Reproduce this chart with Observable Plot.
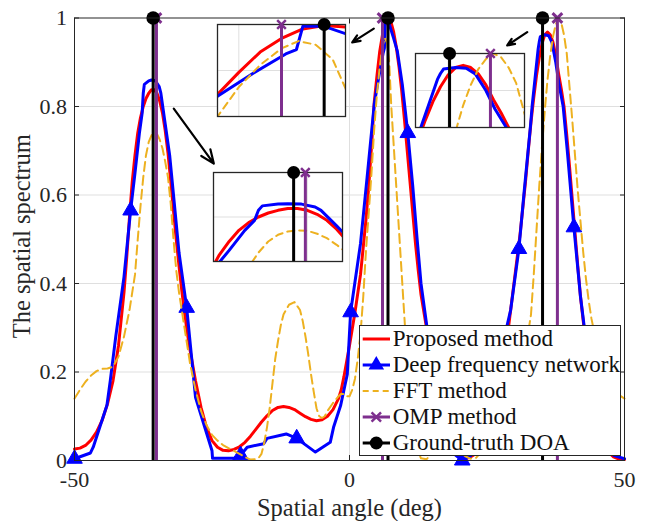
<!DOCTYPE html>
<html><head><meta charset="utf-8">
<script src="https://cdn.jsdelivr.net/npm/d3@7"></script>
<script src="https://cdn.jsdelivr.net/npm/@observablehq/plot@0.6"></script>
<style>
body{margin:0;background:#fff;}
#wrap{position:relative;width:645px;height:521px;overflow:hidden;font-family:"Liberation Serif","DejaVu Serif",serif;background:#fff;}
#wrap svg{position:absolute;}
</style></head><body><div id="wrap"></div>
<script>
// ---------- data ----------
const proposedAngle = [-50,-49,-48,-47,-46,-45,-44,-43,-42,-41,-40.5,-40,-39.5,-39,-38.5,-38,-37.5,-37,-36.5,-36,-35.5,-35,-34.5,-34,-33.5,-33,-32.5,-32,-31.5,-31,-30.5,-30,-29.5,-29,-28,-27,-26,-25,-24,-23,-22,-21,-20,-19,-18,-17,-16,-15,-14,-13,-12,-11,-10,-9,-8,-7,-6,-5,-4,-3,-2,-1.5,-1,-0.5,0,1,2,3,3.5,4,4.5,5,5.5,6,6.5,7,7.5,8,8.5,9,9.5,10,10.5,11,11.5,12,12.5,13,14,15,16,17,18,19,20,21,22,23,24,25,26,27,28,29,30,31,32,32.5,33,33.5,34,34.5,35,35.5,36,36.5,37,37.5,38,38.5,39,39.5,40,40.5,41,41.5,42,43,44,45,46,47,48,49,50];
const proposedValue = [0.026,0.028,0.034,0.046,0.064,0.09,0.128,0.18,0.26,0.38,0.46,0.55,0.63,0.69,0.74,0.775,0.8,0.818,0.83,0.838,0.838,0.83,0.812,0.785,0.745,0.695,0.63,0.565,0.5,0.44,0.385,0.335,0.29,0.25,0.18,0.12,0.075,0.045,0.03,0.023,0.022,0.025,0.031,0.041,0.055,0.071,0.087,0.101,0.113,0.12,0.122,0.12,0.115,0.107,0.099,0.093,0.09,0.092,0.1,0.115,0.14,0.16,0.19,0.225,0.26,0.335,0.42,0.545,0.62,0.71,0.81,0.87,0.925,0.962,0.988,0.997,0.993,0.97,0.935,0.89,0.835,0.77,0.7,0.63,0.56,0.49,0.43,0.375,0.3,0.225,0.155,0.095,0.05,0.02,0.006,0.004,0.008,0.016,0.03,0.06,0.1,0.15,0.22,0.31,0.41,0.51,0.63,0.7,0.765,0.82,0.87,0.91,0.942,0.962,0.968,0.962,0.945,0.915,0.875,0.84,0.8,0.735,0.665,0.59,0.515,0.44,0.37,0.26,0.17,0.1,0.05,0.02,0.008,0.003,0.002];

const dfnAngle = [-50,-47.1,-46.6,-44.1,-43.5,-42.5,-41,-39.8,-39,-38.2,-37.7,-37.5,-37.3,-36.5,-36,-35.3,-34.6,-34.3,-33.5,-32.7,-32,-31,-29.6,-28,-25,-24.9,-21,-19.8,-18.6,-15.6,-15,-12.5,-11.5,-9.6,-6.2,-3.5,-2.9,-1.6,-0.4,0.2,2,3.2,4.5,5.3,6.1,6.35,6.5,7,7.5,8,8.7,9.6,10.6,11.5,12.3,13,14.1,15,16,17,18,19,20.5,22,23,24,25,26,27,28,29.3,30.8,31.7,32.9,33.2,34.3,34.5,34.7,35.5,36.2,36.8,37.5,38.1,38.85,39.6,40.8,42,43.2,44,45,46,47,48.1,50];
const dfnValue = [0.004,0.017,0.03,0.125,0.18,0.28,0.415,0.565,0.65,0.74,0.785,0.83,0.85,0.858,0.86,0.858,0.845,0.83,0.76,0.69,0.6,0.47,0.345,0.143,0.022,0.005,0.005,0.012,0.03,0.038,0.05,0.057,0.06,0.05,0.019,0.041,0.075,0.125,0.195,0.335,0.49,0.64,0.805,0.865,0.92,0.932,0.995,0.995,0.975,0.955,0.925,0.85,0.74,0.62,0.5,0.4,0.3,0.22,0.15,0.09,0.045,0.015,0.0,0.01,0.03,0.06,0.1,0.15,0.21,0.27,0.34,0.478,0.6,0.755,0.8,0.93,0.946,0.958,0.962,0.96,0.945,0.9,0.85,0.8,0.7,0.527,0.37,0.25,0.17,0.1,0.05,0.022,0.011,0.004];
const dfnMarkerAngle = [-50,-39.8,-29.6,-19.8,-9.6,0.2,10.6,20.5,30.8,40.8];

const fftAngle = [-50,-49,-48,-47,-46,-45,-44,-43,-42,-41,-40,-39.5,-39,-38.5,-38,-37.5,-37,-36.5,-36,-35.5,-35,-34.5,-34,-33.5,-33,-32.5,-32,-31.5,-31,-30,-29,-28,-27,-26,-25,-24,-23,-22,-21,-20,-19,-18,-17,-16.5,-16,-15.5,-15,-14.5,-14,-13.5,-13,-12.5,-12,-11,-10,-9,-8.5,-8,-7.5,-7,-6.5,-6,-5.5,-5,-4.5,-4,-3,-2,-1.5,-1,-0.5,0,0.5,1,1.5,2,2.5,3,3.5,4,4.5,5,5.5,6,6.4,6.8,7.2,7.6,8,8.5,9,9.5,10,10.5,11,11.5,12,12.5,13,14,15,16,17,18,19,20,21,22,23,24,25,26,27,28,29,30,31,32,32.5,33,33.5,34,34.5,35,35.5,36,36.5,37,37.5,38,38.5,39,39.5,40,40.5,41,41.5,42,42.5,43,43.5,44,45,46,47,48,49,50];
const fftValue = [0.14,0.16,0.178,0.192,0.202,0.207,0.208,0.212,0.235,0.28,0.34,0.38,0.42,0.5,0.575,0.64,0.69,0.72,0.735,0.74,0.738,0.725,0.705,0.675,0.64,0.58,0.5,0.43,0.38,0.3,0.22,0.16,0.112,0.08,0.058,0.045,0.035,0.028,0.022,0.015,0.008,0.002,0.003,0.006,0.015,0.04,0.075,0.12,0.175,0.23,0.27,0.305,0.33,0.352,0.358,0.34,0.315,0.28,0.24,0.195,0.155,0.118,0.1,0.096,0.1,0.112,0.13,0.145,0.151,0.15,0.145,0.145,0.16,0.185,0.23,0.286,0.37,0.475,0.56,0.65,0.75,0.83,0.89,0.935,0.955,0.945,0.905,0.8,0.72,0.62,0.52,0.42,0.32,0.22,0.145,0.09,0.05,0.02,0.005,0.003,0.015,0.03,0.04,0.042,0.035,0.022,0.01,0.004,0.006,0.02,0.04,0.06,0.08,0.1,0.13,0.17,0.21,0.25,0.29,0.33,0.42,0.52,0.62,0.71,0.79,0.86,0.915,0.958,0.985,1.0,0.99,0.962,0.92,0.845,0.77,0.69,0.61,0.54,0.47,0.41,0.36,0.32,0.26,0.215,0.185,0.163,0.148,0.14];

const ompAngle = [-35.1, 6, 37.8];
const groundTruthAngle = [-35.7, 7, 35.1];

const arrowFromAngle = [-31.95, 4.42, 32.31];
const arrowFromValue = [0.795, 0.976, 0.968];
const arrowToAngle = [-24.67, 0.49, 28.67];
const arrowToValue = [0.671, 0.945, 0.938];

const xTicks = [-50, 0, 50];
const yTicks = [0, 0.2, 0.4, 0.6, 0.8, 1];
const legendLabels = ["Proposed method", "Deep frequency network", "FFT method", "OMP method", "Ground-truth DOA"];
const axisLabelX = "Spatial angle (deg)";
const axisLabelY = "The spatial spectrum";

// ---------- tables ----------
const proposed = proposedAngle.map((a, i) => ({angle: a, value: proposedValue[i]}));
const dfn = dfnAngle.map((a, i) => ({angle: a, value: dfnValue[i]}));
const dfnMarkers = dfn.filter(d => dfnMarkerAngle.includes(d.angle));
const fft = fftAngle.map((a, i) => ({angle: a, value: fftValue[i]}));
const arrows = arrowFromAngle.map((a, i) => ({x1: a, y1: arrowFromValue[i], x2: arrowToAngle[i], y2: arrowToValue[i]}));

const C = {red: "#ff0000", blue: "#0000ff", yellow: "#EDB120", purple: "#7E2F8E", black: "#000000", grid: "#dfdfdf", axis: "#262626"};
const FONT = "Liberation Serif, DejaVu Serif, serif";
const wrap = document.getElementById("wrap");

// ---------- main chart ----------
const main = Plot.plot({
  width: 645, height: 521,
  marginLeft: 74, marginRight: 21, marginTop: 17.5, marginBottom: 61,
  x: {domain: [-50, 50]},
  y: {domain: [0, 1]},
  style: {fontFamily: FONT, fontSize: "22px", color: C.axis, background: "transparent", overflow: "visible"},
  marks: [
    Plot.gridY(yTicks.slice(1, -1), {stroke: C.grid, strokeOpacity: 1, strokeWidth: 1}),
    Plot.gridX([0], {stroke: C.grid, strokeOpacity: 1, strokeWidth: 1}),
    Plot.line(proposed, {x: "angle", y: "value", stroke: C.red, strokeWidth: 3}),
    Plot.line(dfn, {x: "angle", y: "value", stroke: C.blue, strokeWidth: 3}),
    Plot.dot(dfnMarkers, {x: "angle", y: "value", symbol: "triangle", r: 5.8, fill: C.blue, stroke: C.blue, strokeWidth: 1}),
    Plot.line(fft, {x: "angle", y: "value", stroke: C.yellow, strokeWidth: 2, strokeDasharray: "9,5"}),
    Plot.ruleX(ompAngle, {y1: 0, y2: 1, stroke: C.purple, strokeWidth: 3}),
    Plot.dot(ompAngle, {x: d => d, y: 1, symbol: "times", r: 4.5, stroke: C.purple, strokeWidth: 3}),
    Plot.ruleX(groundTruthAngle, {y1: 0, y2: 1, stroke: C.black, strokeWidth: 3}),
    Plot.dot(groundTruthAngle, {x: d => d, y: 1, r: 6.8, fill: C.black}),
    Plot.arrow(arrows, {x1: "x1", y1: "y1", x2: "x2", y2: "y2", stroke: C.black, strokeWidth: 2.2, headLength: 10, headAngle: 45}),
    Plot.frame({stroke: C.axis, strokeWidth: 1}),
    Plot.axisX({ticks: xTicks, tickFormat: d => String(d), tickSize: -5, tickPadding: 16, fontSize: 22, fontFamily: FONT, label: null, stroke: C.axis}),
    Plot.axisX({anchor: "top", ticks: xTicks, tickFormat: () => "", tickSize: -5, label: null, stroke: C.axis}),
    Plot.axisY({ticks: yTicks, tickFormat: d => String(d), tickSize: -5, tickPadding: 12.5, fontSize: 22, fontFamily: FONT, label: null, stroke: C.axis}),
    Plot.axisY({anchor: "right", ticks: yTicks, tickFormat: () => "", tickSize: -5, label: null, stroke: C.axis}),
    Plot.text([axisLabelY], {frameAnchor: "left", dx: -52, dy: -3, rotate: -90, textAnchor: "middle", lineAnchor: "middle", fontSize: 24.5, fontFamily: FONT, fill: C.axis}),
    Plot.text([axisLabelX], {frameAnchor: "bottom", dy: 55, lineAnchor: "bottom", textAnchor: "middle", fontSize: 24.5, fontFamily: FONT, fill: C.axis})
  ]
});
main.style.left = "0px"; main.style.top = "0px";
wrap.appendChild(main);

// ---------- insets ----------
const insets = [
  {left: 217, top: 24, w: 128, h: 92, xd: [4.5, 7.5], yd: [0.75, 1], gx: [5, 6, 7], gy: [0.875]},
  {left: 213, top: 172, w: 129, h: 89, xd: [-39.8, -33.2], yd: [0.6, 1], gx: [-35], gy: [0.8]},
  {left: 415, top: 53, w: 109, h: 74, xd: [32.85, 40.05], yd: [0.8, 1], gx: [35], gy: [0.9]}
];
for (const s of insets) {
  const m = 10;
  const inX = d => d >= s.xd[0] && d <= s.xd[1];
  const svg = Plot.plot({
    width: s.w + 2 * m, height: s.h + 2 * m, margin: m,
    x: {domain: s.xd, axis: null}, y: {domain: s.yd, axis: null},
    style: {fontFamily: FONT, background: "transparent", overflow: "visible"},
    marks: [
      Plot.frame({fill: "white"}),
      Plot.gridX(s.gx, {stroke: C.grid, strokeOpacity: 1}),
      Plot.gridY(s.gy, {stroke: C.grid, strokeOpacity: 1}),
      Plot.line(proposed, {x: "angle", y: "value", stroke: C.red, strokeWidth: 3, clip: true}),
      Plot.line(dfn, {x: "angle", y: "value", stroke: C.blue, strokeWidth: 3, clip: true}),
      Plot.line(fft, {x: "angle", y: "value", stroke: C.yellow, strokeWidth: 2, strokeDasharray: "7,5", clip: true}),
      Plot.ruleX(ompAngle, {y1: 0, y2: 1, stroke: C.purple, strokeWidth: 3, clip: true}),
      Plot.frame({stroke: C.axis, strokeWidth: 1.3}),
      Plot.dot(ompAngle.filter(inX), {x: d => d, y: 1, symbol: "times", r: 4, stroke: C.purple, strokeWidth: 2.5}),
      Plot.ruleX(groundTruthAngle, {y1: 0, y2: 1, stroke: C.black, strokeWidth: 3, clip: true}),
      Plot.dot(groundTruthAngle.filter(inX), {x: d => d, y: 1, r: 6.5, fill: C.black})
    ]
  });
  svg.style.left = (s.left - m) + "px";
  svg.style.top = (s.top - m) + "px";
  wrap.appendChild(svg);
}

// ---------- legend ----------
const legend = document.createElement("div");
legend.style.cssText = "position:absolute;left:359px;top:325px;width:262px;height:131px;box-sizing:border-box;border:1px solid " + C.axis + ";background:#fff;";
wrap.appendChild(legend);
const legendStyles = [
  {stroke: C.red, width: 3, dash: null, marker: null},
  {stroke: C.blue, width: 3, dash: null, marker: "triangle"},
  {stroke: C.yellow, width: 2, dash: "6,4", marker: null},
  {stroke: C.purple, width: 3, dash: null, marker: "times"},
  {stroke: C.black, width: 3, dash: null, marker: "dot"}
];
legendLabels.forEach((label, i) => {
  const cy = 13.3 + i * 25.85;
  const st = legendStyles[i];
  const svg = d3.create("svg").attr("width", 32).attr("height", 24)
    .style("left", "0px").style("top", (cy - 12) + "px").style("overflow", "visible");
  svg.append("line").attr("x1", 2.7).attr("x2", 30).attr("y1", 12).attr("y2", 12)
    .attr("stroke", st.stroke).attr("stroke-width", st.width).attr("stroke-dasharray", st.dash);
  if (st.marker === "triangle") svg.append("path").attr("transform", "translate(16.3,12)").attr("d", d3.symbol(d3.symbolTriangle, 105)()).attr("fill", C.blue);
  if (st.marker === "times") svg.append("path").attr("transform", "translate(16.3,12)").attr("d", d3.symbol(d3.symbolTimes, 60)()).attr("fill", "none").attr("stroke", C.purple).attr("stroke-width", 2.5);
  if (st.marker === "dot") svg.append("circle").attr("cx", 16.3).attr("cy", 12).attr("r", 6.5).attr("fill", C.black);
  legend.appendChild(svg.node());
  const t = document.createElement("div");
  t.textContent = label;
  t.style.cssText = "position:absolute;left:32.7px;top:" + (cy - 13.1).toFixed(1) + "px;font-size:23px;line-height:26px;white-space:nowrap;color:#111;font-family:" + FONT + ";";
  legend.appendChild(t);
});
</script></body></html>
